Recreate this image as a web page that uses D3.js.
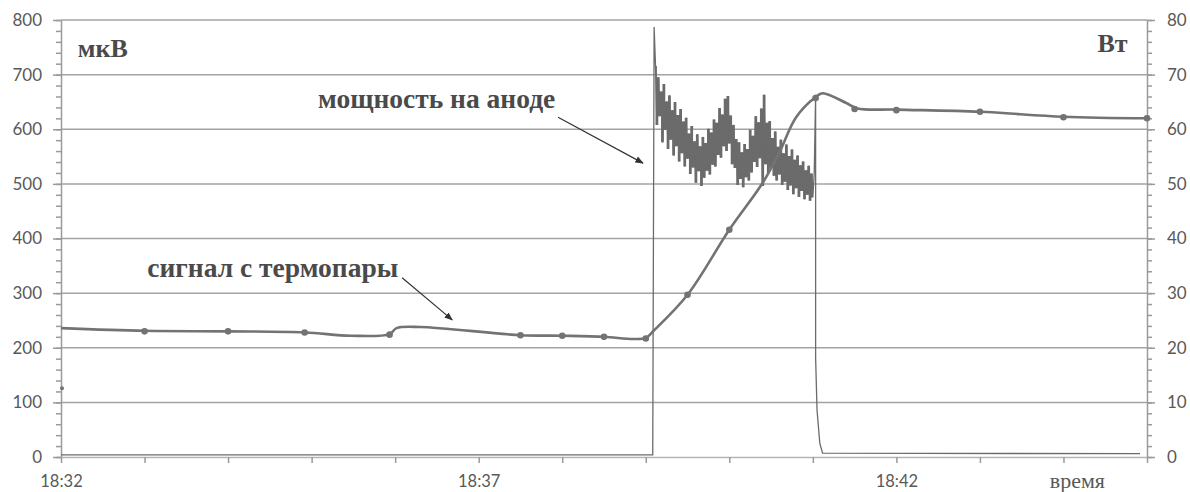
<!DOCTYPE html>
<html>
<head>
<meta charset="utf-8">
<script src="https://cdn.jsdelivr.net/npm/d3@7"></script>
<style>
  body { margin: 0; background: #fff; }
  svg { display: block; }
</style>
</head>
<body>
<svg id="chart" width="1190" height="492"></svg>
<script>
// ---- Thermocouple signal, мкВ (left axis): smoothed trace ----
const thermoTimes = ["18:32:00","18:33:00","18:34:00","18:34:55","18:35:28","18:35:56","18:36:01","18:36:18",
  "18:37:30","18:38:00","18:38:30","18:38:51","18:39:00","18:39:06","18:39:30","18:40:00","18:40:24","18:40:36",
  "18:40:48","18:41:02","18:41:07","18:41:24","18:41:32","18:42:00","18:43:00","18:44:00","18:45:00"];
const thermoValues = [236,231,230,228,222,225,236,238,
  223,222,220,216,218,232,297,416,502,558,
  622,659,666,648,638,636,632,623,620];

// ---- Thermocouple readings shown as markers ----
const markerTimes = ["18:33:00","18:34:00","18:34:55","18:35:56","18:37:30","18:38:00","18:38:30","18:39:00",
  "18:39:30","18:40:00","18:41:02","18:41:30","18:42:00","18:43:00","18:44:00","18:45:00"];
const markerValues = [230,230,228,224,223,222,220,217,297,416,657,637,635,632,622,620];
const strayTimes = ["18:32:00"];
const strayValues = [126];

// ---- Anode power, Вт (right axis) ----
const powerLeadTimes = ["18:32:00","18:39:05","18:39:06"];
const powerLeadValues = [0.4, 0.4, 78.7];
// one reading per second while the discharge runs
const noiseStart = "18:39:07";
const noiseValues = [
  71.6,60.8,69.5,62.4,66.9,57.6,68.3,59.9,65.1,56.4,66.2,58.1,63.5,55.2,65.0,56.9,62.6,54.1,63.7,55.6,
  61.4,53.2,62.1,54.6,59.2,51.8,60.6,53.0,57.8,50.2,59.1,52.3,56.9,49.6,58.6,51.1,57.5,52.4,60.1,51.7,
  59.4,53.5,61.8,53.2,61.2,55.3,63.9,54.8,62.7,56.9,65.6,56.0,66.1,57.4,62.5,53.6,60.8,52.9,58.2,49.8,
  57.6,50.9,55.8,49.4,57.3,51.2,56.4,50.6,59.9,52.1,58.8,54.0,62.4,53.1,61.3,54.7,63.8,49.6,66.3,53.6,
  61.2,52.0,61.5,53.0,58.4,51.5,59.6,50.6,56.8,51.7,58.1,49.8,55.6,50.4,57.2,48.9,55.1,49.7,56.3,48.1,
  54.4,49.2,55.2,47.6,53.4,48.7,54.1,47.2,52.5,48.0,53.3,46.9,51.9,47.5,52.0];
const powerTailTimes = ["18:41:02","18:41:02","18:41:03","18:41:05","18:41:07","18:44:55"];
const powerTailValues = [66.3, 18.1, 8.6, 2.5, 0.7, 0.6];

// ---- Axis ticks ----
const leftTicks = [0,100,200,300,400,500,600,700,800];
const rightTicks = [0,10,20,30,40,50,60,70,80];
const timeLabels = ["18:32","18:37","18:42"];

// ---- Text annotations ----
const annotations = [
  { text: "мкВ", time: "18:32:12", value: 732, anchor: "start", size: 26 },
  { text: "Вт", time: "18:44:46", value: 741, anchor: "end", size: 26 },
  { text: "мощность на аноде", time: "18:37:55", value: 639, anchor: "end", size: 27.5 },
  { text: "сигнал с термопары", time: "18:33:02", value: 330, anchor: "start", size: 27.5 }
];
const arrows = [
  { from: ["18:37:57", 622], to: ["18:38:58", 538] },
  { from: ["18:36:05", 328], to: ["18:36:41", 251] }
];

const parse = d3.timeParse("%H:%M:%S");
const svg = d3.select("#chart");

const x = d3.scaleTime().domain([parse("18:32:00"), parse("18:45:00")]).range([61, 1147]);
const yL = d3.scaleLinear().domain([0, 800]).range([457, 20]);
const yR = d3.scaleLinear().domain([0, 80]).range([457, 20]);

const gridColor = "#a3a3a3";
const axisColor = "#9a9a9a";
const labelColor = "#595959";
const seriesColor = "#737373";
const tickFont = "Lato, 'Open Sans', sans-serif";
const serifFont = "'Liberation Serif', 'DejaVu Serif', serif";

// horizontal gridlines
svg.append("g").selectAll("line").data(leftTicks.filter(d => d > 0)).join("line")
  .attr("x1", x.range()[0]).attr("x2", x.range()[1])
  .attr("y1", d => yL(d)).attr("y2", d => yL(d))
  .attr("stroke", gridColor).attr("stroke-width", 1.5);

const styleAxis = g => {
  g.select(".domain").attr("stroke", axisColor).attr("stroke-width", 1.5);
  g.selectAll(".tick line").attr("stroke", axisColor).attr("stroke-width", 1.5);
  g.selectAll("text").attr("fill", labelColor).attr("font-family", tickFont).attr("font-size", 17);
};

// left axis (minor + major ticks)
svg.append("g").attr("transform", `translate(${x.range()[0]},0)`)
  .call(d3.axisLeft(yL).tickValues(d3.range(0, 801, 20)).tickSize(5).tickSizeOuter(0).tickFormat(""))
  .call(styleAxis);
svg.append("g").attr("transform", `translate(${x.range()[0]},0)`)
  .call(d3.axisLeft(yL).tickValues(leftTicks).tickSize(8).tickSizeOuter(0).tickPadding(11))
  .call(styleAxis).call(g => g.select(".domain").remove());

// right axis
svg.append("g").attr("transform", `translate(${x.range()[1]},0)`)
  .call(d3.axisRight(yR).tickValues(d3.range(0, 81, 2)).tickSize(5).tickSizeOuter(0).tickFormat(""))
  .call(styleAxis);
svg.append("g").attr("transform", `translate(${x.range()[1]},0)`)
  .call(d3.axisRight(yR).tickValues(rightTicks).tickSize(8).tickSizeOuter(0).tickPadding(12))
  .call(styleAxis).call(g => g.select(".domain").remove());

// bottom axis: tick each minute, labelled every five
const fmt = d3.timeFormat("%H:%M");
svg.append("g").attr("transform", `translate(0,${yL(0)})`)
  .call(d3.axisBottom(x).ticks(d3.timeMinute.every(1)).tickSize(6).tickSizeOuter(0)
    .tickFormat(d => timeLabels.includes(fmt(d)) ? fmt(d) : ""))
  .call(styleAxis)
  .call(g => g.select(".domain").attr("stroke", "#b5b5b5"))
  .call(g => g.selectAll("text").attr("y", 30).attr("dy", null).attr("font-size", 16.5));

// anode power trace
const power = [];
powerLeadTimes.forEach((t, i) => power.push({ t: parse(t), v: powerLeadValues[i] }));
const t0 = parse(noiseStart);
const noise = noiseValues.map((v, i) => ({ t: d3.timeSecond.offset(t0, i), v }));
power.push(...noise);
powerTailTimes.forEach((t, i) => power.push({ t: parse(t), v: powerTailValues[i] }));

// swing between consecutive readings, shaded so the fast oscillation reads as a band
const swing = d3.pairs(noise).map(([a, b]) => ({ t: a.t, lo: Math.min(a.v, b.v), hi: Math.max(a.v, b.v) }));
svg.append("path").datum(swing)
  .attr("fill", "#6b6b6b")
  .attr("d", d3.area().curve(d3.curveStepAfter).x(d => x(d.t)).y0(d => yR(d.lo)).y1(d => yR(d.hi)));

svg.append("path").datum(power)
  .attr("fill", "none").attr("stroke", "#6b6b6b").attr("stroke-width", 1.3)
  .attr("d", d3.line().x(d => x(d.t)).y(d => yR(d.v)));

// thermocouple trace
const thermo = thermoTimes.map((t, i) => ({ t: parse(t), v: thermoValues[i] }));
svg.append("path").datum(thermo)
  .attr("fill", "none").attr("stroke", seriesColor).attr("stroke-width", 2.6)
  .attr("d", d3.line().curve(d3.curveCatmullRom.alpha(0.5)).x(d => x(d.t)).y(d => yL(d.v)));

svg.append("g").selectAll("circle").data(markerTimes.map((t, i) => ({ t: parse(t), v: markerValues[i] })))
  .join("circle").attr("cx", d => x(d.t)).attr("cy", d => yL(d.v)).attr("r", 3.3).attr("fill", seriesColor);
svg.append("g").selectAll("circle").data(strayTimes.map((t, i) => ({ t: parse(t), v: strayValues[i] })))
  .join("circle").attr("cx", d => x(d.t) + 1).attr("cy", d => yL(d.v)).attr("r", 2).attr("fill", seriesColor);

// annotations
svg.append("defs").append("marker").attr("id", "arrowhead")
  .attr("viewBox", "0 0 10 10").attr("refX", 9).attr("refY", 5)
  .attr("markerWidth", 7).attr("markerHeight", 7).attr("orient", "auto")
  .append("path").attr("d", "M0,1 L10,5 L0,9 Z").attr("fill", "#333");
svg.append("g").selectAll("line").data(arrows).join("line")
  .attr("x1", d => x(parse(d.from[0]))).attr("y1", d => yL(d.from[1]))
  .attr("x2", d => x(parse(d.to[0]))).attr("y2", d => yL(d.to[1]))
  .attr("stroke", "#333").attr("stroke-width", 1.2).attr("marker-end", "url(#arrowhead)");

svg.append("g").selectAll("text").data(annotations).join("text")
  .attr("x", d => x(parse(d.time))).attr("y", d => yL(d.value))
  .attr("text-anchor", d => d.anchor)
  .attr("font-family", serifFont).attr("font-weight", "bold").attr("font-size", d => d.size)
  .attr("fill", "#4a4a4a").text(d => d.text);

svg.append("text").attr("x", x(parse("18:44:10"))).attr("y", yL(0) + 31)
  .attr("text-anchor", "middle").attr("font-family", serifFont).attr("font-size", 22)
  .attr("fill", labelColor).text("время");
</script>
</body>
</html>
